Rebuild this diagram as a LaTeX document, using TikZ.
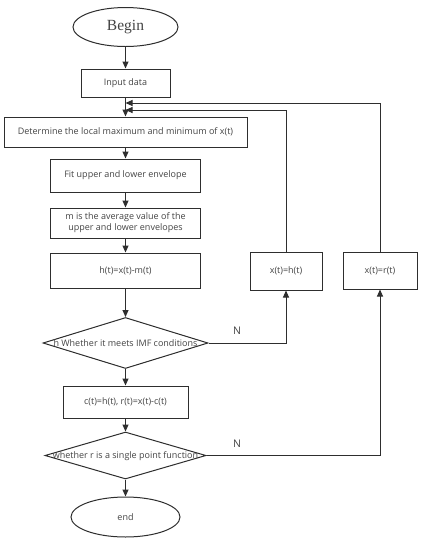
\documentclass[tikz,border=0pt]{standalone}
\usepackage{fontspec}
\setmainfont{Open Sans}
\newfontfamily\serifbegin{Liberation Serif}
\usetikzlibrary{arrows.meta,shapes.geometric}
\definecolor{linec}{HTML}{2E2E2E}
\definecolor{textc}{HTML}{444444}
\begin{document}
\begin{tikzpicture}[x=1pt,y=-1pt,
  every node/.style={text=textc, font=\fontsize{9}{11}\selectfont},
  box/.style={draw=linec, line width=1pt, rectangle, inner sep=0pt},
  oval/.style={draw=linec, line width=1pt, ellipse, inner sep=0pt},
  dia/.style={draw=linec, line width=1pt, diamond, inner sep=0pt},
  arr/.style={draw=linec, line width=1pt, -{Triangle[length=7pt,width=6pt]}},
  ln/.style={draw=linec, line width=1pt}]
\useasboundingbox (0,0) rectangle (423,550);
\fill[white] (0,0) rectangle (423,550);

\node[oval, minimum width=105pt, minimum height=39pt] (begin) at (125.5,27) {\serifbegin\fontsize{15.5}{18}\selectfont Begin};
\node[box, minimum width=89pt, minimum height=28pt] (input) at (125.5,83) {Input data};
\node[box, minimum width=243pt, minimum height=30pt] (det) at (125.5,132) {Determine the local maximum and minimum of x(t)};
\node[box, minimum width=150pt, minimum height=33pt] (fit) at (125.5,175.5) {Fit upper and lower envelope};
\node[box, minimum width=150pt, minimum height=30pt, align=center] (mavg) at (125.5,223) {m is the average value of the\\upper and lower envelopes};
\node[box, minimum width=150pt, minimum height=35pt] (hbox) at (125.5,270.5) {h(t)=x(t)-m(t)};
\node[box, minimum width=72pt, minimum height=38pt] (xh) at (286,271) {x(t)=h(t)};
\node[box, minimum width=74pt, minimum height=37pt] (xr) at (380,270.5) {x(t)=r(t)};
\node[dia, minimum width=165pt, minimum height=51pt] (d1) at (125.5,343) {};
\node (d1t) at (125.5,343) {h Whether it meets IMF conditions};
\node[box, minimum width=125pt, minimum height=32pt] (cbox) at (125.5,402) {c(t)=h(t), r(t)=x(t)-c(t)};
\node[dia, minimum width=161pt, minimum height=47pt] (d2) at (125.5,455.5) {};
\node (d2t) at (125.5,456.5) {whether r is a single point function};
\node[oval, minimum width=109pt, minimum height=40pt] (end) at (125.5,517) {end};

\node[font=\fontsize{10.5}{12}\selectfont] (n1) at (237,331) {N};
\node[font=\fontsize{10.5}{12}\selectfont] (n2) at (237,444) {N};

\coordinate (m1) at (125.5,103);
\coordinate (m2) at (125.5,110);

\draw[arr] (begin) -- (input);
\draw[arr] (input) -- (det);
\draw[arr] (det) -- (fit);
\draw[arr] (fit) -- (mavg);
\draw[arr] (mavg) -- (hbox);
\draw[arr] (hbox) -- (d1);
\draw[arr] (d1) -- (cbox);
\draw[arr] (cbox) -- (d2);
\draw[arr] (d2) -- (end);
\draw[arr] (d1.east) -| (xh.south);
\draw[arr] (d2.east) -| (xr.south);
\draw[arr] (xh.north) |- (m2);
\draw[arr] (xr.north) |- (m1);
\end{tikzpicture}
\end{document}
